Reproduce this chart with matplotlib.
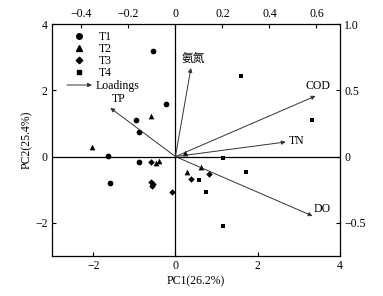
import matplotlib
matplotlib.use("Agg")
import matplotlib.pyplot as plt
from matplotlib.lines import Line2D

plt.rcParams['font.family'] = ['Liberation Serif', 'Noto Sans CJK SC', 'DejaVu Sans']
plt.rcParams['font.size'] = 8.5

# Scores
t1_x = [-0.54, -0.23, -0.96, -0.88, -1.63, -0.88, -1.59]
t1_y = [3.19, 1.59, 1.10, 0.73, 0.03, -0.15, -0.79]
t2_x = [-0.60, -2.03, -0.47, -0.40, 0.23, 0.62, 0.27]
t2_y = [1.23, 0.30, -0.18, -0.13, 0.10, -0.30, -0.46]
t3_x = [-0.59, -0.59, -0.58, -0.55, -0.09, 0.82, 0.37]
t3_y = [-0.15, -0.76, -0.89, -0.82, -1.06, -0.53, -0.68]
t4_x = [1.59, 3.31, 1.15, 1.71, 0.57, 0.74, 1.16]
t4_y = [2.43, 1.10, -0.05, -0.46, -0.71, -1.08, -2.09]

# Loadings
load_names = ['氨氮', 'COD', 'TN', 'DO', 'TP']
load_x = [0.066, 0.596, 0.469, 0.583, -0.277]
load_y = [0.668, 0.457, 0.110, -0.448, 0.367]

W, H = 383, 296
fig = plt.figure(figsize=(W / 100, H / 100), dpi=100)
pos = [52 / W, 1 - 256 / H, (340 - 52) / W, (256 - 24) / H]
ax = fig.add_axes(pos)
ax.set_xlim(-3, 4)
ax.set_ylim(-3, 4)
ax.set_xticks([-2, 0, 2, 4])
ax.set_yticks([-2, 0, 2, 4])
ax.set_xticklabels(['\u22122', '0', '2', '4'])
ax.set_yticklabels(['\u22122', '0', '2', '4'])
ax.tick_params(direction='in', length=3, width=0.8, pad=3, top=False, right=False)
ax.axhline(0, color='black', lw=0.9)
ax.axvline(0, color='black', lw=0.9)
for s in ax.spines.values():
    s.set_linewidth(0.9)

ms = 17
ax.scatter(t1_x, t1_y, marker='o', s=ms, color='black', zorder=3, linewidths=0)
ax.scatter(t2_x, t2_y, marker='^', s=ms, color='black', zorder=3, linewidths=0)
ax.scatter(t3_x, t3_y, marker='D', s=11, color='black', zorder=3, linewidths=0)
ax.scatter(t4_x, t4_y, marker='s', s=12, color='black', zorder=3, linewidths=0)
ax.set_xlabel('PC1(26.2%)', labelpad=2)
ax.set_ylabel('PC2(25.4%)', labelpad=2)

# Secondary axes for loadings
ax2 = fig.add_axes(pos, frameon=False)
ax2.set_xlim(-0.525, 0.7)
ax2.set_ylim(-0.75, 1.0)
ax2.xaxis.tick_top()
ax2.yaxis.tick_right()
ax2.set_xticks([-0.4, -0.2, 0, 0.2, 0.4, 0.6])
ax2.set_xticklabels(['\u22120.4', '\u22120.2', '0', '0.2', '0.4', '0.6'])
ax2.set_yticks([-0.5, 0, 0.5, 1.0])
ax2.set_yticklabels(['\u22120.5', '0', '0.5', '1.0'])
ax2.tick_params(direction='in', length=3, width=0.8, pad=3)
ax2.patch.set_visible(False)

offsets = {'氨氮': (0.01, 0.02, 'center', 'bottom'),
           'COD': (0.01, 0.03, 'center', 'bottom'),
           'TN': (0.015, 0.005, 'left', 'center'),
           'DO': (0.04, 0.05, 'center', 'center'),
           'TP': (0.035, 0.02, 'center', 'bottom')}
for n, lx, ly in zip(load_names, load_x, load_y):
    ax2.annotate('', xy=(lx, ly), xytext=(0, 0),
                 arrowprops=dict(arrowstyle='-|>', color='#333333', lw=0.7,
                                 mutation_scale=6, shrinkA=0, shrinkB=0))
    dx, dy, ha, va = offsets[n]
    ax2.text(lx + dx, ly + dy, n, ha=ha, va=va, fontsize=8.5)

# Legend
handles = [Line2D([], [], marker='o', ls='none', color='black', markersize=4),
           Line2D([], [], marker='^', ls='none', color='black', markersize=4),
           Line2D([], [], marker='D', ls='none', color='black', markersize=3.3),
           Line2D([], [], marker='s', ls='none', color='black', markersize=3.5)]
leg = ax.legend(handles, ['T1', 'T2', 'T3', 'T4'], loc='upper left',
                bbox_to_anchor=(0.035, 1.005), frameon=False, handlelength=1.5,
                handletextpad=0.95, labelspacing=0.0, borderpad=0.2,
                fontsize=8.5)
# Loadings legend entry: arrow + text (figure pixels, origin bottom-left)
ax.annotate('', xy=(92, H - 85), xytext=(67, H - 85), xycoords='figure pixels',
            textcoords='figure pixels',
            arrowprops=dict(arrowstyle='-|>', color='#333333', lw=0.7,
                            mutation_scale=6, shrinkA=0, shrinkB=0))
fig.text(96 / W, 1 - 85.5 / H, 'Loadings', ha='left', va='center', fontsize=8.5)

fig.savefig('out.png', dpi=100)
